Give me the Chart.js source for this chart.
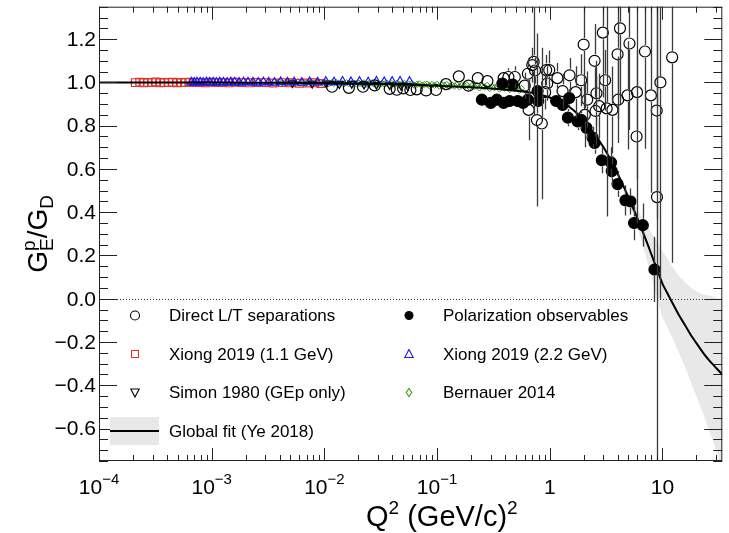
<!DOCTYPE html>
<html>
<head>
<meta charset="utf-8">
<script src="https://cdn.jsdelivr.net/npm/chart.js@4.4.1/dist/chart.umd.min.js"></script>
<style>
body { margin: 0; background: #fff; }
canvas { display: block; }
</style>
</head>
<body>
<canvas id="chart" width="729" height="533"></canvas>
<script>
// Proton G_E / G_D world data

const xTickVals = [1e-4, 1e-3, 1e-2, 1e-1, 1, 10];
const xTickBase = ['10', '10', '10', '10', '1', '10'];
const xTickExp = ['\u22124', '\u22123', '\u22122', '\u22121', '', ''];
const yTickVals = [-0.6, -0.4, -0.2, 0, 0.2, 0.4, 0.6, 0.8, 1.0, 1.2];
const yTickLabels = ['\u22120.6', '\u22120.4', '\u22120.2', '0.0', '0.2', '0.4', '0.6', '0.8', '1.0', '1.2'];

// Direct L/T separations (open circles)
const ltQ2 = [0.0117, 0.0165, 0.022, 0.028, 0.038, 0.044, 0.050, 0.058, 0.066, 0.080, 0.098, 0.120, 0.156, 0.190, 0.230, 0.280,
  0.390, 0.430, 0.490, 0.600, 0.640, 0.650, 0.700, 0.720, 0.740, 0.770, 0.850, 0.910, 0.930, 0.950, 0.990,
  1.17, 1.30, 1.50, 1.70, 1.90, 2.00, 2.05, 2.15, 2.50, 2.55, 2.60, 2.75, 2.96, 3.10, 3.20, 3.60,
  4.00, 4.05, 4.20, 4.90, 5.10, 5.90, 5.95, 7.00, 7.90, 8.90, 8.95, 9.60, 12.2];
const ltVal = [0.980, 0.975, 0.980, 0.986, 0.970, 0.966, 0.972, 0.965, 0.968, 0.963, 0.965, 0.992, 1.028, 0.985, 1.020, 1.006,
  1.020, 1.025, 1.025, 0.985, 1.040, 0.873, 1.080, 1.095, 1.055, 0.826, 0.810, 0.955, 1.057, 0.995, 1.057,
  1.020, 0.960, 1.033, 0.955, 1.010, 1.175, 0.850, 0.920, 1.100, 0.868, 0.950, 0.890, 1.230, 1.010, 0.880, 0.873,
  1.130, 0.920, 1.250, 0.940, 1.180, 0.750, 0.955, 1.143, 0.940, 0.870, 0.470, 1.000, 1.116];
const ltErr = [0.008, 0.008, 0.008, 0.008, 0.008, 0.008, 0.008, 0.008, 0.008, 0.010, 0.010, 0.012, 0.020, 0.020, 0.025, 0.030,
  0.030, 0.040, 0.050, 0.060, 0.070, 0.140, 0.080, 0.250, 0.060, 0.400, 0.350, 0.080, 0.070, 0.080, 0.090,
  0.070, 0.080, 0.080, 0.120, 0.120, 0.300, 0.150, 0.130, 0.170, 0.160, 0.150, 0.150, 0.300, 0.140, 0.500, 0.200,
  0.300, 0.200, 0.350, 0.250, 0.400, 0.400, 0.400, 0.450, 0.450, 0.500, 1.600, 1.000, 0.950];

// Polarization observables (filled circles)
const polQ2 = [0.25, 0.30, 0.34, 0.38, 0.39, 0.44, 0.47, 0.52, 0.58, 0.64, 0.78, 0.79, 1.14, 1.30, 1.45, 1.49,
  1.77, 1.90, 2.12, 2.40, 2.50, 2.90, 3.50, 3.55, 4.00, 4.70, 5.20, 5.60, 6.70, 8.50];
const polVal = [0.920, 0.905, 0.920, 0.995, 0.905, 0.914, 0.990, 0.914, 0.905, 0.920, 0.960, 0.914, 0.914, 0.896, 0.837, 0.928,
  0.820, 0.827, 0.790, 0.745, 0.720, 0.640, 0.630, 0.590, 0.530, 0.455, 0.450, 0.350, 0.340, 0.135];
const polErr = [0.020, 0.020, 0.020, 0.020, 0.020, 0.020, 0.025, 0.020, 0.020, 0.025, 0.030, 0.030, 0.030, 0.030, 0.040, 0.040,
  0.040, 0.040, 0.050, 0.050, 0.050, 0.060, 0.070, 0.070, 0.060, 0.070, 0.060, 0.080, 0.100, 0.150];

// Xiong 2019, 1.1 GeV (red squares)
const x11Q2 = [2.1e-4, 2.3e-4, 2.5e-4, 2.7e-4, 2.95e-4, 3.2e-4, 3.5e-4, 3.8e-4, 4.15e-4, 4.5e-4, 4.9e-4, 5.35e-4,
  5.85e-4, 6.4e-4, 7.1e-4, 7.9e-4, 8.8e-4, 9.8e-4, 1.1e-3, 1.25e-3, 1.42e-3, 1.62e-3, 1.85e-3, 2.15e-3,
  2.5e-3, 2.95e-3, 3.5e-3, 4.2e-3, 5.0e-3, 6.0e-3, 7.1e-3, 8.2e-3, 9.3e-3];
const x11Val = [0.999, 1.001, 0.998, 1.000, 0.999, 1.002, 0.998, 1.000, 0.999, 1.001, 0.998, 1.000,
  0.999, 1.001, 0.999, 1.000, 0.998, 1.001, 0.999, 1.000, 0.998, 1.001, 0.999, 0.998,
  1.000, 0.999, 0.997, 0.999, 0.998, 0.996, 0.997, 0.998, 0.995];

// Xiong 2019, 2.2 GeV (blue triangles)
const x22Q2 = [6.6e-4, 7.0e-4, 7.4e-4, 7.9e-4, 8.4e-4, 9.0e-4, 9.6e-4, 1.03e-3, 1.1e-3, 1.18e-3, 1.27e-3, 1.37e-3,
  1.48e-3, 1.6e-3, 1.75e-3, 1.92e-3, 2.1e-3, 2.32e-3, 2.58e-3, 2.88e-3, 3.2e-3, 3.6e-3, 4.1e-3, 4.7e-3,
  5.4e-3, 6.3e-3, 7.4e-3, 8.7e-3, 0.0103, 0.0122, 0.0145, 0.0172, 0.0205, 0.0245, 0.029, 0.034, 0.040, 0.047, 0.057];
const x22Val = [1.000, 0.999, 1.001, 1.000, 0.999, 1.001, 1.000, 1.000, 0.999, 1.001, 1.000, 0.999,
  1.001, 1.000, 0.999, 1.001, 1.000, 1.000, 0.999, 1.001, 1.000, 0.999, 1.002, 1.000,
  1.001, 0.999, 1.002, 1.000, 1.003, 1.001, 1.004, 1.002, 1.003, 1.001, 1.004, 1.002, 1.003, 1.004, 1.003];

// Simon 1980 (open down triangles)
const simonQ2 = [0.0052, 0.0078, 0.0104, 0.0136, 0.0175, 0.0225, 0.029, 0.038, 0.048, 0.055];
const simonVal = [0.997, 0.995, 0.996, 0.993, 0.994, 0.991, 0.990, 0.988, 0.985, 0.984];

// Bernauer 2014 (green diamonds)
const bernQ2 = [0.0038, 0.0040, 0.0042, 0.0045, 0.0047, 0.0050, 0.0052, 0.0055, 0.0058, 0.0061,
  0.0064, 0.0068, 0.0071, 0.0075, 0.0079, 0.0084, 0.0088, 0.0093, 0.0098, 0.0103,
  0.0109, 0.0115, 0.0121, 0.0128, 0.0134, 0.0142, 0.0149, 0.0157, 0.0165, 0.0174,
  0.0183, 0.0193, 0.0203, 0.0214, 0.0225, 0.0237, 0.025, 0.0263, 0.0277, 0.0292,
  0.0307, 0.0323, 0.034, 0.0358, 0.0377, 0.0397, 0.0418, 0.044, 0.0463, 0.0488,
  0.0513, 0.054, 0.0568, 0.0598, 0.063, 0.0663, 0.0698, 0.0735, 0.0773, 0.0814,
  0.0857, 0.0902, 0.095, 0.1, 0.105, 0.111, 0.116, 0.122, 0.129, 0.136,
  0.143, 0.15, 0.158, 0.166, 0.175, 0.184, 0.194, 0.204, 0.215, 0.226,
  0.238, 0.251, 0.264, 0.278, 0.293, 0.308, 0.324, 0.341, 0.359, 0.378,
  0.398, 0.419, 0.441, 0.464, 0.489, 0.514, 0.54, 0.56];
const bernVal = [0.999, 1.002, 0.997, 1.000, 0.998, 1.001, 0.996, 0.999, 1.001, 0.997,
  0.999, 0.996, 1.000, 0.998, 0.995, 0.999, 0.997, 1.000, 0.996, 0.998,
  0.994, 0.998, 0.996, 0.999, 0.995, 0.997, 0.993, 0.998, 0.996, 0.994,
  0.997, 0.993, 0.996, 0.994, 0.998, 0.992, 0.995, 0.997, 0.993, 0.996,
  0.991, 0.995, 0.993, 0.997, 0.990, 0.994, 0.992, 0.996, 0.989, 0.993,
  0.995, 0.988, 0.992, 0.994, 0.987, 0.991, 0.993, 0.986, 0.990, 0.992,
  0.985, 0.990, 0.987, 0.991, 0.983, 0.988, 0.986, 0.990, 0.981, 0.987,
  0.984, 0.989, 0.980, 0.986, 0.983, 0.988, 0.978, 0.985, 0.981, 0.986,
  0.975, 0.983, 0.979, 0.986, 0.972, 0.980, 0.976, 0.984, 0.970, 0.978,
  0.974, 0.982, 0.967, 0.976, 0.971, 0.979, 0.964, 0.972];

// Global fit (Ye 2018) with uncertainty band
const fitQ2 = [1e-4, 1e-3, 0.005, 0.01, 0.02, 0.05, 0.1, 0.2, 0.3, 0.5, 0.7, 1.0, 1.3, 1.6, 2.0, 2.5, 3.0, 3.5,
  4.0, 4.5, 5.0, 5.5, 6.0, 7.0, 8.0, 9.0, 10, 11, 12, 14, 16, 18, 20, 23, 26, 30, 34];
const fitVal = [1.000, 0.9995, 0.998, 0.997, 0.995, 0.990, 0.985, 0.978, 0.972, 0.962, 0.952, 0.930, 0.905, 0.875,
  0.825, 0.760, 0.700, 0.638, 0.578, 0.522, 0.468, 0.418, 0.372, 0.284, 0.204, 0.132, 0.070, 0.028, -0.010,
  -0.075, -0.125, -0.170, -0.205, -0.250, -0.285, -0.320, -0.350];
const fitHi = [1.002, 1.0015, 1.000, 0.999, 0.997, 0.992, 0.987, 0.980, 0.974, 0.965, 0.955, 0.934, 0.910, 0.880,
  0.831, 0.767, 0.708, 0.648, 0.590, 0.537, 0.488, 0.445, 0.410, 0.354, 0.304, 0.262, 0.220, 0.190, 0.155,
  0.105, 0.075, 0.050, 0.035, 0.020, 0.015, 0.005, -0.005];
const fitLo = [0.998, 0.9975, 0.996, 0.995, 0.993, 0.988, 0.983, 0.976, 0.970, 0.959, 0.949, 0.926, 0.900, 0.870,
  0.819, 0.753, 0.692, 0.628, 0.566, 0.507, 0.448, 0.390, 0.330, 0.210, 0.100, 0.000, -0.085, -0.130, -0.170,
  -0.250, -0.320, -0.390, -0.450, -0.530, -0.610, -0.700, -0.790];

const FONT = '"Liberation Sans", Arial, Helvetica, sans-serif';

function pts(xs, ys) {
  return xs.map((x, i) => ({ x: x, y: ys[i] }));
}

function markers(label, xs, ys, style, extra) {
  return Object.assign({
    label: label,
    data: pts(xs, ys),
    showLine: false,
    pointStyle: style,
    pointRadius: 5.5,
    pointBorderWidth: 1.2,
    borderColor: '#000',
    backgroundColor: 'rgba(0,0,0,0)',
    order: 2
  }, extra || {});
}

// error bars with a gap around the marker, like ROOT draws them
const errorBars = {
  id: 'errorBars',
  afterDatasetsDraw(chart) {
    const { ctx, chartArea: a, scales: { y } } = chart;
    ctx.save();
    ctx.beginPath();
    ctx.rect(a.left, a.top, a.right - a.left, a.bottom - a.top);
    ctx.clip();

    // dotted zero line
    const y0 = Math.round(y.getPixelForValue(0)) + 0.5;
    ctx.strokeStyle = '#333';
    ctx.lineWidth = 1;
    ctx.setLineDash([1, 2]);
    ctx.beginPath();
    ctx.moveTo(a.left, y0);
    ctx.lineTo(a.right, y0);
    ctx.stroke();
    ctx.setLineDash([]);

    chart.data.datasets.forEach((ds, i) => {
      if (!ds.err) return;
      const meta = chart.getDatasetMeta(i);
      ctx.strokeStyle = '#3a3a3a';
      ctx.lineWidth = 1.3;
      meta.data.forEach((pt, j) => {
        const v = ds.data[j].y;
        const top = y.getPixelForValue(v + ds.err[j]);
        const bot = y.getPixelForValue(v - ds.err[j]);
        const px = Math.round(pt.x) + 0.5;
        const gap = ds.pointRadius + 1;
        ctx.beginPath();
        if (pt.y - gap > top) { ctx.moveTo(px, top); ctx.lineTo(px, pt.y - gap); }
        if (pt.y + gap < bot) { ctx.moveTo(px, pt.y + gap); ctx.lineTo(px, bot); }
        ctx.stroke();
      });
    });
    ctx.restore();
  }
};

function drawMarker(ctx, kind, x, y) {
  ctx.save();
  ctx.lineWidth = 1.1;
  ctx.beginPath();
  if (kind === 'open') {
    ctx.strokeStyle = '#000';
    ctx.arc(x, y, 4.5, 0, Math.PI * 2);
    ctx.stroke();
  } else if (kind === 'filled') {
    ctx.fillStyle = '#000';
    ctx.arc(x, y, 4.5, 0, Math.PI * 2);
    ctx.fill();
  } else if (kind === 'square') {
    ctx.strokeStyle = '#e8302a';
    ctx.rect(x - 3.5, y - 3.5, 7, 7);
    ctx.stroke();
  } else if (kind === 'tri') {
    ctx.strokeStyle = '#1a1aee';
    ctx.moveTo(x, y - 4.5); ctx.lineTo(x + 4.2, y + 3.5); ctx.lineTo(x - 4.2, y + 3.5); ctx.closePath();
    ctx.stroke();
  } else if (kind === 'dtri') {
    ctx.strokeStyle = '#000';
    ctx.moveTo(x, y + 4.5); ctx.lineTo(x + 4.2, y - 3.5); ctx.lineTo(x - 4.2, y - 3.5); ctx.closePath();
    ctx.stroke();
  } else if (kind === 'diamond') {
    ctx.strokeStyle = '#3a9a1e';
    ctx.moveTo(x, y - 4); ctx.lineTo(x + 2.8, y); ctx.lineTo(x, y + 4); ctx.lineTo(x - 2.8, y); ctx.closePath();
    ctx.stroke();
  }
  ctx.restore();
}

const legendItems = [
  { kind: 'open', text: 'Direct L/T separations', col: 0, row: 0 },
  { kind: 'filled', text: 'Polarization observables', col: 1, row: 0 },
  { kind: 'square', text: 'Xiong 2019 (1.1 GeV)', col: 0, row: 1 },
  { kind: 'tri', text: 'Xiong 2019 (2.2 GeV)', col: 1, row: 1 },
  { kind: 'dtri', text: 'Simon 1980 (GEp only)', col: 0, row: 2 },
  { kind: 'diamond', text: 'Bernauer 2014', col: 1, row: 2 },
  { kind: 'fit', text: 'Global fit (Ye 2018)', col: 0, row: 3 }
];

const frame = {
  id: 'frame',
  afterDraw(chart) {
    const { ctx, chartArea: a, scales: { x, y } } = chart;
    ctx.save();
    ctx.strokeStyle = '#222';
    ctx.lineWidth = 1;

    // y ticks (both sides)
    ctx.beginPath();
    for (let k = -15; k <= 27; k++) {
      const py = Math.round(y.getPixelForValue(k * 0.05)) + 0.5;
      const len = (k % 4 === 0) ? 18 : 9;
      ctx.moveTo(a.left, py); ctx.lineTo(a.left + len, py);
      ctx.moveTo(a.right, py); ctx.lineTo(a.right - len, py);
    }
    // x ticks (bottom and top)
    for (let d = -4; d <= 1; d++) {
      for (let m = 1; m <= 9; m++) {
        const v = m * Math.pow(10, d);
        if (v > x.max) break;
        const px = Math.round(x.getPixelForValue(v)) + 0.5;
        const len = m === 1 ? 13 : 6;
        ctx.moveTo(px, a.bottom); ctx.lineTo(px, a.bottom - len);
        ctx.moveTo(px, a.top); ctx.lineTo(px, a.top + len);
      }
    }
    ctx.stroke();

    // frame
    ctx.strokeStyle = '#222';
    ctx.strokeRect(a.left + 0.5, a.top + 0.5, a.right - a.left - 1, a.bottom - a.top - 1);

    // y tick labels
    ctx.fillStyle = '#000';
    ctx.font = '21px ' + FONT;
    ctx.textAlign = 'right';
    ctx.textBaseline = 'middle';
    yTickVals.forEach((v, i) => {
      ctx.fillText(yTickLabels[i], a.left - 3, y.getPixelForValue(v) + 1);
    });

    // x tick labels with superscript exponents
    ctx.textAlign = 'left';
    ctx.textBaseline = 'alphabetic';
    xTickVals.forEach((v, i) => {
      const px = x.getPixelForValue(v);
      ctx.font = '21px ' + FONT;
      const wb = ctx.measureText(xTickBase[i]).width;
      ctx.font = '15px ' + FONT;
      const we = xTickExp[i] ? ctx.measureText(xTickExp[i]).width : 0;
      const x0 = px - (wb + we) / 2;
      ctx.font = '21px ' + FONT;
      ctx.fillText(xTickBase[i], x0, 494);
      if (xTickExp[i]) {
        ctx.font = '15px ' + FONT;
        ctx.fillText(xTickExp[i], x0 + wb, 484);
      }
    });

    // x title: Q^2 (GeV/c)^2
    const big = '29px ' + FONT, sup = '19px ' + FONT;
    const partsX = [['Q', big, 0], ['2', sup, -12], [' (GeV/c)', big, 0], ['2', sup, -12]];
    let cx = 366;
    partsX.forEach(p => {
      ctx.font = p[1];
      ctx.fillText(p[0], cx, 526 + p[2]);
      cx += ctx.measureText(p[0]).width;
    });

    // y title: G_E^p / G_D
    ctx.save();
    ctx.translate(47, (a.top + a.bottom) / 2);
    ctx.rotate(-Math.PI / 2);
    const ybig = '28px ' + FONT, ysup = '19px ' + FONT;
    ctx.font = ybig;
    const wG = ctx.measureText('G').width;
    const wS = ctx.measureText('/').width;
    ctx.font = ysup;
    const wE = ctx.measureText('E').width;
    const wp = ctx.measureText('p').width;
    const wD = ctx.measureText('D').width;
    const wy = wG + Math.max(wE, wp) + wS + wG + wD;
    let ty = -wy / 2;
    ctx.font = ybig;
    ctx.fillText('G', ty, 0); ty += wG;
    ctx.font = ysup;
    ctx.fillText('p', ty, -12);
    ctx.fillText('E', ty, 6);
    ty += Math.max(wE, wp);
    ctx.font = ybig;
    ctx.fillText('/', ty, 0); ty += wS;
    ctx.fillText('G', ty, 0); ty += wG;
    ctx.font = ysup;
    ctx.fillText('D', ty, 6);
    ctx.restore();

    // legend
    const colMark = [135, 409], colText = [169, 443], rowY = [315.5, 354, 392.5, 431];
    ctx.font = '17px ' + FONT;
    ctx.textBaseline = 'middle';
    legendItems.forEach(it => {
      const mx = colMark[it.col], my = rowY[it.row];
      if (it.kind === 'fit') {
        ctx.fillStyle = '#e8e8e8';
        ctx.fillRect(110, 417, 49, 28);
        ctx.strokeStyle = '#000';
        ctx.lineWidth = 2;
        ctx.beginPath();
        ctx.moveTo(110, my); ctx.lineTo(159, my);
        ctx.stroke();
      } else {
        drawMarker(ctx, it.kind, mx, my);
      }
      ctx.fillStyle = '#000';
      ctx.fillText(it.text, colText[it.col], my + 1);
    });
    ctx.restore();
  }
};

new Chart(document.getElementById('chart'), {
  type: 'line',
  data: {
    datasets: [
      { label: 'band hi', data: pts(fitQ2, fitHi), pointRadius: 0, borderWidth: 0, borderColor: 'rgba(0,0,0,0)',
        backgroundColor: '#e8e8e8', fill: '+1', order: 10 },
      { label: 'band lo', data: pts(fitQ2, fitLo), pointRadius: 0, borderWidth: 0, borderColor: 'rgba(0,0,0,0)',
        fill: false, order: 10 },
      markers('Bernauer 2014', bernQ2, bernVal, 'rectRot', { pointRadius: 3.2, pointBorderWidth: 1, borderColor: '#2f9a16', order: 6 }),
      markers('Xiong 2019 (1.1 GeV)', x11Q2, x11Val, 'rect', { pointRadius: 5.5, borderColor: '#e8302a', order: 5 }),
      markers('Xiong 2019 (2.2 GeV)', x22Q2, x22Val, 'triangle', { pointRadius: 5, borderColor: '#1a1aee', order: 4 }),
      markers('Simon 1980 (GEp only)', simonQ2, simonVal, 'triangle', { pointRadius: 4.5, pointRotation: 180, order: 4 }),
      Object.assign(markers('Direct L/T separations', ltQ2, ltVal, 'circle', { order: 3 }), { err: ltErr }),
      Object.assign(markers('Polarization observables', polQ2, polVal, 'circle',
        { backgroundColor: '#000', order: 3 }), { err: polErr }),
      { label: 'Global fit (Ye 2018)', data: pts(fitQ2, fitVal), pointRadius: 0, borderWidth: 2,
        borderColor: '#000', fill: false, tension: 0.2, order: 0 }
    ]
  },
  options: {
    responsive: false,
    animation: false,
    events: [],
    layout: { padding: { left: 99, right: 1, top: 3, bottom: 72 } },
    scales: {
      x: { type: 'logarithmic', min: 1e-4, max: 34, display: false },
      y: { type: 'linear', min: -0.75, max: 1.35, display: false }
    },
    plugins: {
      legend: { display: false },
      tooltip: { enabled: false }
    }
  },
  plugins: [errorBars, frame]
});
</script>
</body>
</html>
